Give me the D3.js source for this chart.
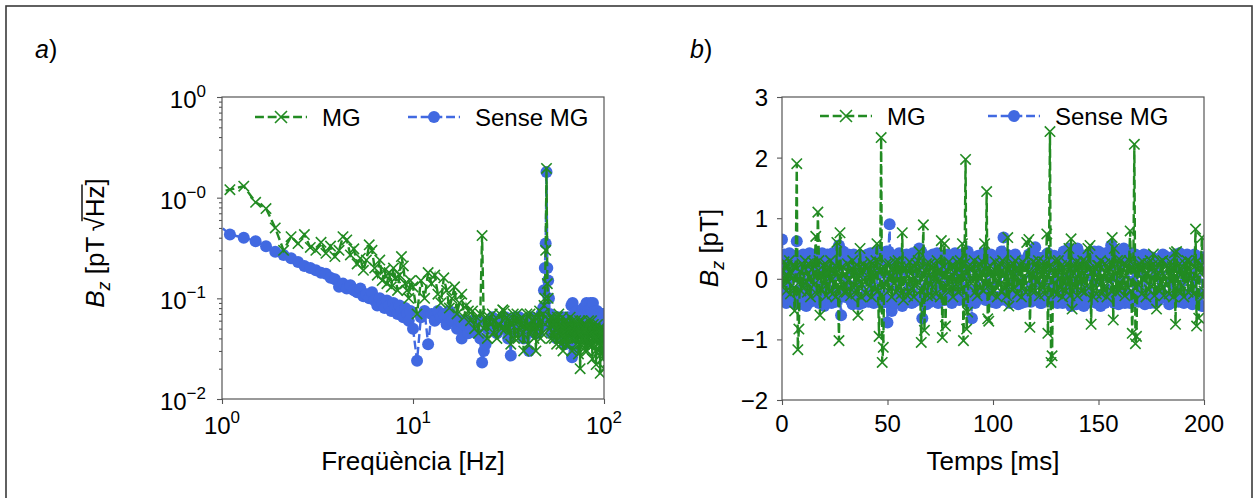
<!DOCTYPE html>
<html>
<head>
<meta charset="utf-8">
<script src="https://cdn.jsdelivr.net/npm/d3@7"></script>
<style>
body{margin:0;background:#fff}
text{font-family:"Liberation Sans",Arial,Helvetica,sans-serif;fill:#000}
</style>
</head>
<body>
<svg id="chart" width="1259" height="498"></svg>
<script>

// ---- spectrum (panel a) ----
var freqLow = d3.range(0.9, 9.75, 0.2);   // 0.9 .. 9.7
var freqMid = d3.range(10, 19.6, 0.5);    // 10 .. 19.5
var freqHigh = d3.range(20, 100.1, 0.5);  // 20 .. 100
var freqs = freqLow.concat(freqMid, freqHigh);

var specMG = [
  1.1,1.2,1.3,0.9,0.78, 0.5,0.3,0.41,0.35,0.43, 0.32,0.3,0.36,0.28,0.33,
  0.26,0.3,0.41,0.38,0.27, 0.31,0.22,0.25,0.19,0.24, 0.34,0.3,0.2,0.17,0.24,
  0.15,0.19,0.14,0.18,0.13, 0.2,0.16,0.12,0.17,0.26, 0.21,0.14,0.12,0.1,0.15,
  // 10 - 19.5
  0.13,0.07,0.15,0.1,0.18, 0.14,0.17,0.11,0.09,0.16, 0.12,0.08,0.1,0.13,0.07,
  0.09,0.11,0.065,0.085,0.075,
  // 20 - 100
  0.06,0.075,0.05,0.065,0.045,0.07,0.42,0.05,0.065,0.04,
  0.065,0.055,0.07,0.045,0.06,0.04,0.055,0.07,0.05,0.077,
  0.075,0.05,0.065,0.045,0.06,0.035,0.055,0.07,0.04,0.06,
  0.07,0.04,0.06,0.05,0.065,0.045,0.03,0.06,0.05,0.07,
  0.035,0.055,0.07,0.045,0.06,0.05,0.04,0.065,0.03,0.055,
  0.05,0.065,0.075,0.04,0.06,0.045,0.07,0.085,0.1,0.3,
  1.95,0.14,0.1,0.06,0.05,0.065,0.04,0.055,0.065,0.045,
  0.04,0.06,0.05,0.035,0.065,0.045,0.07,0.04,0.055,0.035,
  0.055,0.065,0.03,0.05,0.04,0.06,0.045,0.035,0.06,0.05,
  0.035,0.055,0.045,0.065,0.04,0.05,0.03,0.06,0.045,0.055,
  0.05,0.04,0.06,0.035,0.04,0.055,0.045,0.028,0.05,0.06,
  0.02,0.035,0.045,0.06,0.04,0.055,0.035,0.05,0.045,0.03,
  0.04,0.055,0.045,0.03,0.05,0.04,0.06,0.035,0.05,0.045,
  0.035,0.05,0.06,0.04,0.025,0.045,0.055,0.035,0.04,0.05,
  0.05,0.03,0.022,0.045,0.04,0.055,0.035,0.045,0.03,0.05,
  0.045,0.018,0.05,0.04,0.028,0.045,0.035,0.025,0.04,0.05,
  0.02
];

var specNoMG = [
  0.6,0.43,0.4,0.37,0.33, 0.29,0.27,0.25,0.23,0.21, 0.2,0.19,0.18,0.175,0.16,
  0.155,0.13,0.14,0.125,0.135, 0.12,0.115,0.125,0.105,0.11, 0.1,0.115,0.095,0.085,0.1,
  0.09,0.08,0.095,0.085,0.075, 0.09,0.08,0.07,0.085,0.075, 0.065,0.08,0.07,0.06,0.075,
  // 10 - 19.5
  0.05,0.024,0.065,0.075,0.035, 0.07,0.06,0.075,0.065,0.07, 0.055,0.075,0.06,0.065,0.05,
  0.06,0.04,0.055,0.06,0.045,
  // 20 - 100
  0.05,0.06,0.055,0.045,0.06,0.04,0.023,0.03,0.035,0.05,
  0.05,0.06,0.065,0.05,0.055,0.045,0.06,0.05,0.06,0.065,
  0.05,0.065,0.055,0.04,0.045,0.027,0.055,0.06,0.05,0.065,
  0.06,0.05,0.065,0.055,0.045,0.06,0.04,0.05,0.06,0.055,
  0.06,0.03,0.055,0.065,0.05,0.06,0.055,0.045,0.06,0.05,
  0.045,0.06,0.05,0.065,0.07,0.055,0.08,0.12,0.2,0.35,
  1.8,0.2,0.15,0.1,0.07,0.06,0.045,0.055,0.065,0.05,
  0.045,0.055,0.06,0.04,0.05,0.065,0.06,0.045,0.055,0.06,
  0.045,0.055,0.065,0.05,0.06,0.035,0.055,0.06,0.045,0.065,
  0.05,0.06,0.045,0.055,0.065,0.085,0.026,0.09,0.055,0.05,
  0.03,0.055,0.06,0.07,0.075,0.06,0.05,0.065,0.07,0.055,
  0.045,0.065,0.07,0.06,0.075,0.065,0.08,0.07,0.055,0.065,
  0.07,0.085,0.09,0.065,0.07,0.06,0.075,0.065,0.07,0.08,
  0.09,0.08,0.07,0.075,0.085,0.09,0.06,0.07,0.065,0.075,
  0.05,0.07,0.065,0.06,0.075,0.065,0.055,0.07,0.06,0.065,
  0.06,0.055,0.05,0.065,0.07,0.06,0.045,0.055,0.06,0.07,
  0.07
];

// ---- time series (panel b), one sample every 0.5 ms ----
var times = d3.range(0, 200.1, 0.5);

var timeMG = [
  0.15,-0.1,0.28,0.05,-0.2,0.22,-0.05,0.3,-0.25,0.1, 0.22,-0.15,-0.53,0.2,1.9,-1.17,-0.83,0.12,-0.2,0.25,
  -0.12,0.18,0.3,-0.05,-0.22,0.25,0.02,-0.3,0.15,0.28, -0.1,0.2,0.7,-0.25,1.1,0.3,-0.6,0.1,-0.18,0.22,
  -0.08,0.25,-0.28,0.1,0.18,-0.2,0.3,-0.02,-0.25,0.15, 0.22,-0.3,0.6,-0.1,-1.02,0.76,-0.15,0.2,0.05,-0.22,
  0.08,-0.22,0.25,0.12,-0.02,-0.28,0.15,0.3,-0.15,0.2, -0.25,0.1,-0.6,0.18,0.5,-0.3,-0.1,0.25,0.2,-0.05,
  -0.25,0.05,0.2,-0.12,0.28,-0.3,0.1,0.22,-0.18,0.3, 0.58,-0.2,-0.95,0.15,2.33,-1.38,-1.13,0.18,-0.1,0.25,
  0.1,-0.2,0.25,0.02,-0.3,0.15,-0.08,0.28,-0.22,0.12, 0.3,-0.15,0.2,-0.25,0.76,-0.35,0.18,-0.05,0.22,-0.28,
  -0.22,0.28,0.08,-0.15,0.22,-0.3,0.02,0.25,-0.1,0.3, 0.45,-0.2,-1.05,0.1,0.89,-0.85,0.12,0.25,-0.28,0.05,
  0.25,-0.1,-0.28,0.18,0.0,0.22,-0.25,0.3,-0.05,0.15, -0.3,0.63,-0.97,0.2,0.58,-0.78,0.15,-0.12,0.28,-0.2,
  -0.12,0.22,-0.3,0.1,0.2,-0.15,0.28,-0.22,0.05,0.3, -0.18,0.58,-1.02,0.25,1.97,-0.83,-0.55,0.2,-0.05,0.15,
  0.2,-0.05,0.3,-0.22,0.1,-0.28,0.18,0.25,-0.15,0.02, 0.28,-0.2,0.58,-0.1,1.44,-0.66,-0.7,0.22,0.1,-0.25,
  0.12,-0.2,0.28,0.0,-0.3,0.18,-0.1,0.25,-0.22,0.3, 0.05,-0.15,0.2,-0.28,0.68,-0.45,0.22,0.1,-0.18,0.25,
  -0.15,0.3,0.05,-0.25,0.15,-0.08,0.22,-0.3,0.28,-0.12, 0.2,-0.22,0.6,0.1,0.65,-0.8,0.1,-0.2,0.28,0.02,
  -0.2,0.25,-0.05,0.3,-0.28,0.12,0.2,-0.15,0.28,-0.25, 0.1,0.74,-0.9,0.2,2.43,-1.38,-1.27,0.15,-0.22,0.3,
  0.15,-0.25,0.3,0.02,-0.15,0.22,-0.3,0.18,0.08,-0.2, 0.25,-0.1,0.5,-0.28,0.66,-0.5,0.1,0.22,-0.15,0.28,
  -0.28,0.2,-0.05,0.25,-0.2,0.3,0.1,-0.22,0.28,-0.12, 0.5,0.15,0.55,-0.75,0.12,-0.3,0.2,0.05,-0.25,0.22,
  0.22,-0.1,0.3,-0.25,0.05,-0.18,0.25,0.12,-0.3,0.2, -0.05,0.28,-0.2,0.68,-0.68,0.5,0.08,-0.22,0.3,-0.1,
  -0.2,0.3,-0.12,0.15,0.25,-0.28,0.05,0.22,-0.15,0.3, 0.79,-0.2,-0.9,0.18,2.22,-1.07,-0.95,0.2,-0.1,0.25,
  0.18,-0.25,0.28,-0.02,0.2,-0.3,0.1,0.25,-0.18,0.3, -0.12,0.22,0.41,-0.28,0.15,-0.5,0.25,0.02,-0.2,0.28,
  -0.15,0.3,-0.28,0.05,-0.1,0.22,0.18,-0.25,0.28,-0.05, 0.2,-0.3,0.43,-0.75,0.45,-0.2,0.1,0.25,-0.22,0.15,
  0.1,-0.3,0.25,-0.05,0.3,-0.22,0.15,0.28,-0.18,0.02, -0.25,0.2,0.82,-0.78,0.3,-0.65,0.1,0.22,0.68,-0.3,
  -0.2
];

var timeNoMG = [
  0.65,-0.3,0.4,0.2,-0.4,0.35,-0.25,0.42,-0.35,0.15, 0.3,-0.4,0.1,0.38,0.62,-0.3,0.25,-0.42,0.35,-0.2,
  0.4,-0.3,0.2,-0.45,0.35,-0.15,0.42,-0.38,0.3,0.1, -0.35,0.4,-0.25,0.38,0.15,-0.4,0.3,-0.2,0.42,-0.35,
  -0.45,0.3,-0.35,0.4,-0.2,0.35,0.1,-0.4,0.42,-0.25, 0.3,-0.38,0.2,0.4,0.55,-0.3,-0.6,0.35,0.45,-0.2,
  -0.3,0.38,-0.1,0.4,0.3,-0.35,0.2,-0.42,0.4,-0.25, 0.35,-0.3,0.15,-0.42,0.38,0.3,-0.4,0.2,0.35,-0.3,
  -0.25,0.4,-0.38,0.15,0.42,-0.3,0.35,-0.4,0.2,0.38, -0.2,0.45,-0.35,0.3,0.1,-0.4,0.35,-0.3,0.4,0.45,
  -0.72,0.45,0.9,-0.4,-0.53,0.3,0.38,-0.4,0.2,0.35, -0.3,0.42,-0.25,0.35,-0.45,0.3,0.15,-0.38,0.4,-0.2,
  -0.3,0.35,0.25,-0.4,0.42,-0.38,0.3,0.15,-0.35,0.4, 0.5,-0.3,0.45,-0.65,-0.25,0.38,0.25,-0.42,0.3,-0.15,
  0.3,-0.38,0.25,0.4,-0.3,0.35,-0.2,0.42,-0.4,0.15, 0.35,-0.3,0.2,0.38,-0.35,0.3,-0.25,0.4,0.38,-0.3,
  0.25,-0.4,0.35,-0.2,0.42,-0.3,0.3,0.15,-0.35,0.4, -0.25,0.38,0.4,-0.3,-0.35,0.2,0.45,-0.4,0.3,-0.2,
  -0.65,0.3,0.35,-0.4,-0.35,0.25,0.38,-0.3,0.35,0.2, -0.25,0.42,0.4,-0.35,-0.3,0.3,0.3,-0.2,0.4,-0.38,
  -0.38,0.35,0.3,-0.4,-0.3,0.2,0.25,-0.35,0.45,0.38, 0.68,-0.3,-0.35,0.4,0.3,-0.25,-0.4,0.35,0.25,-0.3,
  -0.3,0.4,0.35,-0.2,-0.42,0.3,0.2,-0.4,-0.35,0.25, 0.3,-0.38,-0.25,0.35,0.4,-0.3,-0.38,0.42,0.25,-0.35,
  0.52,-0.3,-0.3,0.35,0.3,-0.4,-0.4,0.25,0.35,-0.3, -0.35,0.4,0.42,-0.3,0.25,-0.38,-0.3,0.35,0.38,-0.2,
  0.3,-0.4,-0.25,0.35,0.35,-0.3,-0.4,0.45,0.45,-0.35, -0.2,0.3,0.5,-0.4,-0.45,0.35,0.3,-0.25,0.4,-0.42,
  0.5,-0.3,-0.35,0.4,0.3,-0.25,-0.45,0.38,0.2,-0.4, 0.35,-0.2,-0.3,0.4,0.42,-0.35,0.45,-0.3,-0.4,0.3,
  0.45,-0.35,-0.45,0.4,0.3,-0.25,-0.4,0.42,0.35,-0.3, -0.3,0.45,0.55,-0.35,0.5,-0.4,-0.35,0.3,0.25,-0.42,
  -0.3,0.35,0.4,-0.25,0.5,-0.4,-0.25,0.3,0.38,-0.35, -0.4,0.42,0.35,-0.3,-0.3,0.4,0.25,-0.35,-0.38,0.3,
  0.3,-0.35,-0.25,0.4,-0.42,-0.3,0.38,0.25,0.3,-0.4, -0.3,0.35,0.25,-0.38,-0.4,0.3,0.15,-0.35,0.3,-0.25,
  -0.25,0.4,0.38,-0.3,-0.3,0.35,0.35,-0.42,-0.4,0.3, 0.25,-0.38,-0.3,0.4,0.3,-0.35,-0.38,0.42,0.2,-0.3,
  0.3,-0.4,-0.35,0.38,0.4,-0.3,-0.25,0.35,0.35,-0.42, -0.3,0.4,0.38,-0.35,-0.4,0.3,0.3,-0.25,-0.45,0.35,
  0.35
];

var seriesNames = ["MG", "Sense MG"];
var freqTicks = [1, 10, 100], freqTickExp = ["0", "1", "2"];
var specTicks = [0.01, 0.1, 1, 10], specTickExp = ["\u22122", "\u22121", "\u22120", "0"];
var timeTicks = [0, 50, 100, 150, 200];
var fieldTicks = [-2, -1, 0, 1, 2, 3];

var green = "#228b22", blue = "#4169e1", spine = "#555";
var dash = "8.9,3.8";

var svg = d3.select("#chart");
svg.append("rect").attr("width", 1259).attr("height", 498).attr("fill", "#fff");

// outer frame (bottom edge runs off the picture)
svg.append("rect").attr("x", 6).attr("y", 6).attr("width", 1246).attr("height", 520)
   .attr("fill", "none").attr("stroke", "#3a3a3a").attr("stroke-width", 1.6);

var xF = d3.scaleLog().domain([1, 100]).range([222, 604]);
var yF = d3.scaleLog().domain([0.01, 10]).range([399, 97]);
var xT = d3.scaleLinear().domain([0, 200]).range([782, 1204]);
var yT = d3.scaleLinear().domain([-2, 3]).range([400, 97]);

var defs = svg.append("defs");
function clip(id, x, y) {
  defs.append("clipPath").attr("id", id).append("rect")
      .attr("x", x.range()[0]).attr("y", y.range()[1])
      .attr("width", x.range()[1] - x.range()[0]).attr("height", y.range()[0] - y.range()[1]);
}
clip("clipA", xF, yF);
clip("clipB", xT, yT);

function xMark(sel, size) {
  sel.attr("d", "M" + (-size) + "," + (-size) + "L" + size + "," + size + "M" + (-size) + "," + size + "L" + size + "," + (-size))
     .attr("fill", "none").attr("stroke", green).attr("stroke-width", 1.6);
}

function drawSeries(g, xs, ys, x, y, color, isCross) {
  var pts = xs.map(function(d, i){ return [x(d), y(ys[i])]; });
  g.append("path").attr("d", d3.line()(pts))
   .attr("fill", "none").attr("stroke", color).attr("stroke-width", 2.4)
   .attr("stroke-dasharray", dash);
  if (isCross) {
    g.selectAll(null).data(pts).enter().append("path")
     .attr("transform", function(p){ return "translate(" + p[0] + "," + p[1] + ")"; })
     .call(xMark, 5.2);
  } else {
    g.selectAll(null).data(pts).enter().append("circle")
     .attr("cx", function(p){ return p[0]; }).attr("cy", function(p){ return p[1]; })
     .attr("r", 6).attr("fill", color);
  }
}

function pow10Label(parent, x, y, exp, anchor) {
  var t = parent.append("text").attr("x", x).attr("y", y).attr("text-anchor", anchor)
                .style("font-size", "24px");
  t.append("tspan").text("10");
  t.append("tspan").attr("dy", -11).style("font-size", "17px").text(exp);
  return t;
}

function frame(x, y) {
  svg.append("rect").attr("x", x.range()[0]).attr("y", y.range()[1])
     .attr("width", x.range()[1] - x.range()[0]).attr("height", y.range()[0] - y.range()[1])
     .attr("fill", "none").attr("stroke", spine).attr("stroke-width", 1.2);
}

function styleAxis(g) {
  g.select(".domain").remove();
  g.selectAll(".tick line").attr("stroke", spine).attr("stroke-width", 1.1);
  g.selectAll(".tick text").remove();
}

// ============ panel a ============
var gA = svg.append("g");
var dataA = gA.append("g").attr("clip-path", "url(#clipA)");
drawSeries(dataA, freqs, specNoMG, xF, yF, blue, false);
drawSeries(dataA, freqs, specMG, xF, yF, green, true);
frame(xF, yF);

var minorF = [];
[0.01, 0.1, 1].forEach(function(dec){
  for (var k = 2; k <= 9; k++) minorF.push(dec * k);
});
gA.append("g").attr("transform", "translate(222,0)")
  .call(d3.axisLeft(yF).tickValues(minorF).tickSize(3).tickFormat(""))
  .call(styleAxis);
gA.append("g").attr("transform", "translate(222,0)")
  .call(d3.axisLeft(yF).tickValues(specTicks).tickSize(5).tickFormat(""))
  .call(styleAxis);
gA.append("g").attr("transform", "translate(0,399)")
  .call(d3.axisBottom(xF).tickValues(freqTicks).tickSize(5).tickFormat(""))
  .call(styleAxis);

specTicks.forEach(function(v, i){ pow10Label(gA, 206, yF(v) + 11, specTickExp[i], "end"); });
freqTicks.forEach(function(v, i){ pow10Label(gA, xF(v), 434, freqTickExp[i], "middle"); });

gA.append("text").attr("x", 413).attr("y", 470).attr("text-anchor", "middle")
  .style("font-size", "26px").text("Freqüència [Hz]");

// ============ panel b ============
var gB = svg.append("g");
var dataB = gB.append("g").attr("clip-path", "url(#clipB)");
drawSeries(dataB, times, timeNoMG, xT, yT, blue, false);
drawSeries(dataB, times, timeMG, xT, yT, green, true);
frame(xT, yT);

gB.append("g").attr("transform", "translate(782,0)")
  .call(d3.axisLeft(yT).tickValues(fieldTicks).tickSize(5).tickFormat(""))
  .call(styleAxis);
gB.append("g").attr("transform", "translate(0,400)")
  .call(d3.axisBottom(xT).tickValues(timeTicks).tickSize(5).tickFormat(""))
  .call(styleAxis);

fieldTicks.forEach(function(v){
  gB.append("text").attr("x", 768).attr("y", yT(v) + 9).attr("text-anchor", "end")
    .style("font-size", "24px").text(String(v).replace("-", "\u2212"));
});
timeTicks.forEach(function(v){
  gB.append("text").attr("x", xT(v)).attr("y", 432).attr("text-anchor", "middle")
    .style("font-size", "24px").text(v);
});

gB.append("text").attr("x", 993).attr("y", 470).attr("text-anchor", "middle")
  .style("font-size", "26px").text("Temps [ms]");

// ---- y labels ----
function yLabel(cx, cy, root) {
  var g = svg.append("g").attr("transform", "translate(" + cx + "," + cy + ") rotate(-90)");
  var t = g.append("text").attr("text-anchor", "middle").style("font-size", "26px");
  var parts = [];
  parts.push(t.append("tspan").style("font-style", "italic").text("B"));
  parts.push(t.append("tspan").style("font-style", "italic").style("font-size", "18px").attr("dy", 6).text("z"));
  if (!root) {
    t.append("tspan").attr("dy", -6).text(" [pT]");
    return;
  }
  parts.push(t.append("tspan").attr("dy", -6).text(" [pT\u2009"));
  var rt = t.append("tspan").text("\u221a");
  var hz = t.append("tspan").text("Hz");
  t.append("tspan").text("]");
  // overline over Hz, joined to the radical
  var total = t.node().getComputedTextLength();
  var before = 0;
  parts.forEach(function(p){ before += p.node().getComputedTextLength(); });
  var rLen = rt.node().getComputedTextLength(), hLen = hz.node().getComputedTextLength();
  var x0 = -total / 2 + before;
  g.append("line").attr("x1", x0 + rLen * 0.72).attr("x2", x0 + rLen + hLen + 1)
   .attr("y1", -22).attr("y2", -22).attr("stroke", "#000").attr("stroke-width", 1.4);
}
yLabel(104, 243, true);
yLabel(718, 248, false);

// ---- panel letters ----
function panelLetter(x, letter) {
  var t = svg.append("text").attr("x", x).attr("y", 58).style("font-size", "25px");
  t.append("tspan").style("font-style", "italic").text(letter);
  t.append("tspan").text(")");
}
panelLetter(35, "a");
panelLetter(690, "b");

// ---- legends ----
function legend(items) {
  items.forEach(function(it, i){
    var g = svg.append("g");
    g.append("line").attr("x1", it.x).attr("x2", it.x + 52).attr("y1", it.y).attr("y2", it.y)
     .attr("stroke", it.color).attr("stroke-width", 2.4).attr("stroke-dasharray", dash);
    if (i === 0) {
      g.append("path").attr("transform", "translate(" + (it.x + 26) + "," + it.y + ")").call(xMark, 6);
    } else {
      g.append("circle").attr("cx", it.x + 26).attr("cy", it.y).attr("r", 6).attr("fill", it.color);
    }
    g.append("text").attr("x", it.x + 67).attr("y", it.y + 8.5).style("font-size", "24px").text(seriesNames[i]);
  });
}
legend([{x: 255, y: 117, color: green}, {x: 408, y: 117, color: blue}]);
legend([{x: 820, y: 116, color: green}, {x: 988, y: 116, color: blue}]);

</script>
</body>
</html>
